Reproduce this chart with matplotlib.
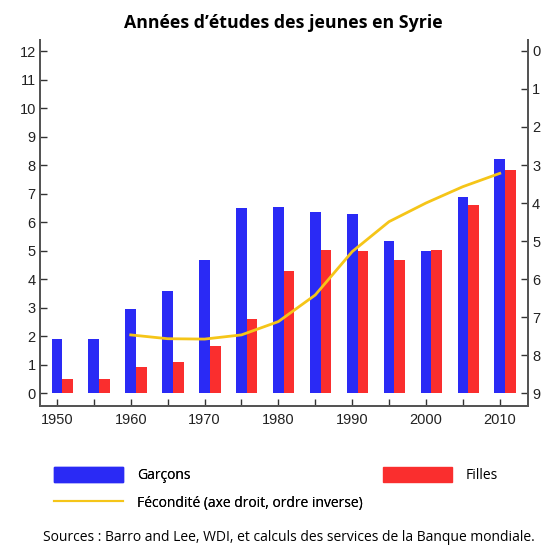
import numpy as np
import matplotlib.pyplot as plt
from matplotlib.patches import Patch
from matplotlib.lines import Line2D

years = [1950, 1955, 1960, 1965, 1970, 1975, 1980, 1985, 1990, 1995, 2000, 2005, 2010]
garcons = [1.9, 1.9, 2.95, 3.6, 4.68, 6.49, 6.55, 6.35, 6.28, 5.34, 4.98, 6.9, 8.22]
filles = [0.5, 0.5, 0.93, 1.09, 1.67, 2.61, 4.3, 5.04, 5.0, 4.67, 5.03, 6.6, 7.82]

fert_years = [1960, 1965, 1970, 1975, 1980, 1985, 1990, 1995, 2000, 2005, 2010]
fecondite = [7.47, 7.57, 7.58, 7.47, 7.12, 6.42, 5.28, 4.49, 4.0, 3.57, 3.22]

blue = '#2a2af5'
red = '#fa2e2e'
gold = '#f5c518'
spine_col = '#555555'

plt.rcParams['font.family'] = ['Liberation Sans', 'DejaVu Sans']
txt_font = ['Open Sans', 'DejaVu Sans']

fig = plt.figure(figsize=(5.55, 5.55), dpi=100)
ax = fig.add_axes([0.072, 0.2685, 0.879, 0.6595])
ax2 = ax.twinx()

w = 1.45
x = np.array(years)
ax.bar(x, garcons, width=w, color=blue, zorder=2)
ax.bar(x + w, filles, width=w, color=red, zorder=2)
ax2.plot(fert_years, fecondite, color=gold, lw=2)

ax.set_xlim(1947.7, 2013.8)
ax.set_ylim(-0.45, 12.4)
ax2.set_ylim(9.34, -0.29)

ax.set_xticks(range(1950, 2011, 10))
ax.set_xticks(range(1955, 2010, 10), minor=True)
ax.set_yticks(range(0, 13))
ax2.set_yticks(range(0, 10))

for a in (ax, ax2):
    a.spines['top'].set_visible(False)
    for s in ('left', 'right', 'bottom'):
        a.spines[s].set_color(spine_col)
        a.spines[s].set_linewidth(1.4)
    a.tick_params(direction='in', length=5, width=1, color='#333333',
                  labelsize=10.5, labelcolor='#222222', pad=3)
ax.tick_params(axis='x', which='minor', direction='in', length=5, width=1, color='#333333')
ax.tick_params(axis='x', pad=5)

fig.text(0.51, 0.958, "Années d\u2019études des jeunes en Syrie", ha='center', va='center',
         fontsize=12.8, fontweight='bold', family=txt_font)

leg_kw = dict(frameon=False, handlelength=5.0, handleheight=1.3, handletextpad=0.95,
              labelspacing=0.85, borderpad=0, borderaxespad=0,
              prop={'family': txt_font, 'size': 10})
leg1 = fig.legend([Patch(color=blue), Line2D([], [], color=gold, lw=1.5)],
                  ['Garçons', 'Fécondité (axe droit, ordre inverse)'],
                  loc='upper left', bbox_to_anchor=(54 / 555, 1 - 467 / 555), **leg_kw)
fig.legend([Patch(color=red)], ['Filles'],
           loc='upper left', bbox_to_anchor=(383 / 555, 1 - 467 / 555), **leg_kw)
fig.add_artist(leg1)

fig.text(0.077, 0.031, "Sources : Barro and Lee, WDI, et calculs des services de la Banque mondiale.",
         fontsize=10, va='center', family=txt_font)

fig.savefig('out.png', dpi=100)
